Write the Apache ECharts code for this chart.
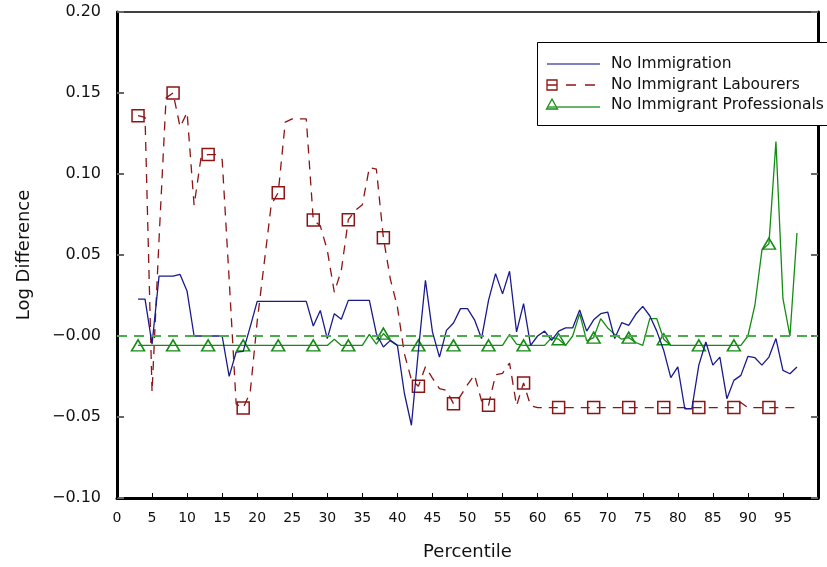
<!DOCTYPE html>
<html><head><meta charset="utf-8">
<script src="https://cdn.jsdelivr.net/npm/echarts@6/dist/echarts.min.js"></script>
<style>html,body{margin:0;padding:0;background:#fff}#c{width:827px;height:567px}</style>
</head><body><div id="c"></div>
<script>
const percentiles = [3,4,5,6,7,8,9,10,11,12,13,14,15,16,17,18,19,20,21,22,23,24,25,26,27,28,29,30,31,32,33,34,35,36,37,38,39,40,41,42,43,44,45,46,47,48,49,50,51,52,53,54,55,56,57,58,59,60,61,62,63,64,65,66,67,68,69,70,71,72,73,74,75,76,77,78,79,80,81,82,83,84,85,86,87,88,89,90,91,92,93,94,95,96,97];

const noImmigration = [
 0.0228,0.0228,-0.005,0.037,0.037,0.037,0.038,0.0276,0.000,0.000,
 0.000,0.000,0.000,-0.0249,-0.0099,-0.0095,0.0056,0.0214,0.0214,0.0214,
 0.0214,0.0214,0.0214,0.0214,0.0214,0.0062,0.0158,-0.0016,0.0138,0.0103,
 0.022,0.022,0.022,0.022,0.0014,-0.0068,-0.0027,-0.0058,-0.0355,-0.0551,
 -0.0088,0.0344,0.0025,-0.013,0.0035,0.008,0.0169,0.0169,0.010,-0.0016,
 0.022,0.0385,0.026,0.040,0.0025,0.020,-0.0058,0.000,0.003,-0.0027,
 0.003,0.005,0.005,0.016,0.003,0.010,0.0138,0.0148,-0.0016,0.0082,
 0.0066,0.0134,0.0183,0.0125,0.003,-0.009,-0.0257,-0.019,-0.0449,-0.0449,
 -0.018,-0.0037,-0.018,-0.013,-0.0387,-0.0274,-0.0243,-0.0126,-0.0134,-0.018,
 -0.013,-0.0016,-0.0212,-0.0233,-0.0191];

const noImmigrantLabourers = [
 0.136,0.135,-0.0346,0.06,0.147,0.150,0.129,0.138,0.0807,0.1105,
 0.112,0.112,0.109,0.035,-0.042,-0.0444,-0.035,0.009,0.045,0.081,
 0.0885,0.132,0.134,0.134,0.134,0.0716,0.068,0.053,0.027,0.0405,
 0.0718,0.0776,0.081,0.104,0.103,0.0607,0.035,0.018,-0.011,-0.027,
 -0.031,-0.019,-0.026,-0.0325,-0.0335,-0.0418,-0.037,-0.030,-0.024,-0.040,
 -0.0428,-0.024,-0.023,-0.0167,-0.043,-0.029,-0.043,-0.0442,-0.0442,-0.0442,
 -0.0442,-0.0442,-0.0442,-0.0442,-0.0442,-0.0442,-0.0442,-0.0442,-0.0442,-0.0442,
 -0.0442,-0.0442,-0.0442,-0.0442,-0.0442,-0.0442,-0.0442,-0.0442,-0.0442,-0.0442,
 -0.0442,-0.0442,-0.0442,-0.0442,-0.0442,-0.0442,-0.041,-0.0442,-0.0442,-0.0442,
 -0.0442,-0.0442,-0.0442,-0.0442,-0.0442];

const noImmigrantProfessionals = [
 -0.0058,-0.0058,-0.0058,-0.0058,-0.0058,-0.0058,-0.0058,-0.0058,-0.0058,-0.0058,
 -0.0058,-0.0058,-0.0058,-0.0058,-0.0058,-0.0058,-0.0058,-0.0058,-0.0058,-0.0058,
 -0.0058,-0.0058,-0.0058,-0.0058,-0.0058,-0.0058,-0.0058,-0.0058,-0.002,-0.0058,
 -0.0058,-0.0058,-0.0058,0.001,-0.005,0.0015,-0.003,-0.0058,-0.0058,-0.0058,
 -0.0058,-0.0058,-0.0058,-0.0058,-0.0058,-0.0058,-0.0058,-0.0058,-0.0058,-0.0058,
 -0.0058,-0.0058,-0.0058,0.001,-0.005,-0.0058,-0.0058,-0.0058,-0.0058,-0.001,
 -0.002,-0.0058,0.000,0.0138,-0.003,-0.001,0.0107,0.005,0.001,-0.002,
 -0.001,-0.004,-0.0058,0.0107,0.0107,-0.002,-0.0058,-0.0058,-0.0058,-0.0058,
 -0.0058,-0.0058,-0.0058,-0.0058,-0.0058,-0.0058,-0.0058,0.000,0.019,0.053,
 0.057,0.120,0.023,0.000,0.0636];

const yTicks = [-0.10,-0.05,0.00,0.05,0.10,0.15,0.20];
const xTicks = [0,5,10,15,20,25,30,35,40,45,50,55,60,65,70,75,80,85,90,95];
const seriesNames = ['No Immigration','No Immigrant Labourers','No Immigrant Professionals'];

const FONT = 'DejaVu Sans';
const BLUE = '#1a1a8c', RED = '#8b1414', GREEN = '#138c13';

function mk(vals, sym) {
  return percentiles.map((p, i) => ({
    value: [p, vals[i]],
    symbol: (sym && i % 5 === 0) ? sym : 'none'
  }));
}
function plain(vals) { return percentiles.map((p, i) => [p, vals[i]]); }
function yFmt(v) {
  const r = Math.round(v * 100) / 100;
  if (r === 0) return '\u22120.00';
  return (r < 0 ? '\u2212' : '') + Math.abs(r).toFixed(2);
}

// legend drawn as graphic (marker at the left end of each sample, as in the original)
const LX = 537, LY = 42, rows = [64, 85, 105];
const legendGraphic = [
  {type: 'rect', shape: {x: LX + 0.5, y: LY + 0.5, width: 320, height: 83},
   style: {fill: '#fff', stroke: '#000', lineWidth: 1}, z: 50},
  {type: 'line', shape: {x1: 547, y1: rows[0], x2: 600, y2: rows[0]},
   style: {stroke: '#5555b0', lineWidth: 1.5}, z: 51},
  {type: 'rect', shape: {x: 547, y: rows[1] - 5, width: 10, height: 10},
   style: {fill: 'none', stroke: RED, lineWidth: 1.3}, z: 51},
  {type: 'line', shape: {x1: 547, y1: rows[1], x2: 600, y2: rows[1]},
   style: {stroke: RED, lineWidth: 1.3, lineDash: [10, 9]}, z: 51},
  {type: 'polygon', shape: {points: [[552, rows[2] - 6], [546.5, rows[2] + 4], [557.5, rows[2] + 4]]},
   style: {fill: 'none', stroke: GREEN, lineWidth: 1.3}, z: 51},
  {type: 'line', shape: {x1: 547, y1: rows[2] + 2, x2: 600, y2: rows[2] + 2},
   style: {stroke: '#3a9c3a', lineWidth: 1.5}, z: 51}
].concat(seriesNames.map((n, i) => ({
  type: 'text', x: 611, y: rows[i], z: 52,
  style: {text: n, fill: '#111', font: '15.5px "DejaVu Sans"', textVerticalAlign: 'middle', verticalAlign: 'middle'}
})));

const chart = echarts.init(document.getElementById('c'), null, {renderer: 'canvas'});
chart.setOption({
  animation: false,
  backgroundColor: '#fff',
  grid: {left: 117, right: 9, top: 12, bottom: 69, show: false},
  graphic: legendGraphic,
  xAxis: [{
    type: 'value', min: 0, max: 100, interval: 5, position: 'bottom',
    axisLine: {show: true, onZero: false, lineStyle: {color: '#000', width: 3}},
    axisTick: {show: true, inside: true, length: 5, lineStyle: {color: '#000', width: 1}},
    axisLabel: {formatter: v => (xTicks.indexOf(v) >= 0 ? String(v) : ''), color: '#111', fontFamily: FONT, fontSize: 14, margin: 13},
    splitLine: {show: false},
    name: 'Percentile', nameLocation: 'middle', nameGap: 45,
    nameTextStyle: {fontFamily: FONT, fontSize: 18, color: '#111'}
  }, {
    type: 'value', min: 0, max: 100, position: 'top',
    axisLine: {show: true, onZero: false, lineStyle: {color: '#000', width: 1.5}},
    axisTick: {show: false}, axisLabel: {show: false}, splitLine: {show: false}
  }],
  yAxis: [{
    type: 'value', min: -0.10, max: 0.20, interval: 0.05, position: 'left',
    axisLine: {show: true, onZero: false, lineStyle: {color: '#000', width: 3}},
    axisTick: {show: true, inside: true, length: 7, lineStyle: {color: '#666', width: 2}},
    axisLabel: {formatter: yFmt, color: '#111', fontFamily: FONT, fontSize: 16, margin: 16},
    splitLine: {show: false},
    name: 'Log Difference', nameLocation: 'middle', nameGap: 84, nameRotate: 90,
    nameTextStyle: {fontFamily: FONT, fontSize: 18, color: '#111'}
  }, {
    type: 'value', min: -0.10, max: 0.20, interval: 0.05, position: 'right',
    axisLine: {show: true, onZero: false, lineStyle: {color: '#000', width: 3}},
    axisTick: {show: true, inside: true, length: 7, lineStyle: {color: '#666', width: 2}},
    axisLabel: {show: false}, splitLine: {show: false}
  }],
  series: [{
    name: seriesNames[0], type: 'line', xAxisIndex: 0, yAxisIndex: 0,
    data: plain(noImmigration), symbol: 'none',
    color: BLUE, lineStyle: {color: BLUE, width: 1.3}, z: 3
  }, {
    name: seriesNames[1], type: 'line', xAxisIndex: 0, yAxisIndex: 0,
    data: mk(noImmigrantLabourers, 'rect'), symbol: 'rect', symbolSize: 12, showAllSymbol: true,
    color: RED, lineStyle: {color: RED, width: 1.3, type: [9, 7]},
    itemStyle: {color: 'rgba(255,255,255,0)', borderColor: RED, borderWidth: 1.5}, z: 2
  }, {
    name: seriesNames[2], type: 'line', xAxisIndex: 0, yAxisIndex: 0,
    data: mk(noImmigrantProfessionals, 'triangle'), symbol: 'triangle', symbolSize: [13, 11], showAllSymbol: true,
    color: GREEN, lineStyle: {color: GREEN, width: 1.3},
    itemStyle: {color: 'rgba(255,255,255,0)', borderColor: GREEN, borderWidth: 1.5}, z: 2,
    markLine: {
      silent: true, symbol: 'none', label: {show: false},
      lineStyle: {color: '#4dab4d', width: 2, type: [10, 7]},
      data: [{yAxis: 0}]
    }
  }]
});
</script></body></html>
